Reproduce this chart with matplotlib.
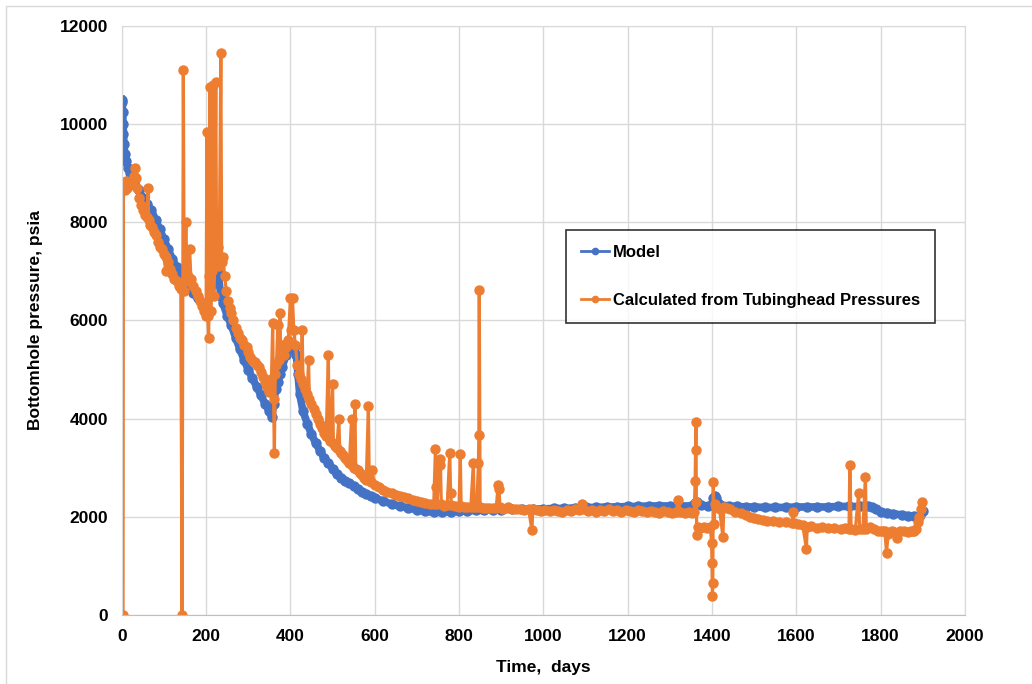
import matplotlib.pyplot as plt
from matplotlib.lines import Line2D
from matplotlib.patches import Rectangle

# Model (blue): (day, psia)
model_pts = [
    (0, 10500), (1, 10450), (2, 10250), (3, 10000), (4, 9800), (5, 9600),
    (7, 9400), (10, 9250), (15, 9100), (20, 9000), (25, 8900), (30, 8820),
    (40, 8650), (50, 8500), (60, 8380), (70, 8250), (80, 8050), (90, 7860),
    (100, 7650), (110, 7450), (120, 7250), (130, 7080), (140, 6950),
    (150, 6800), (160, 6680), (170, 6560), (180, 6450), (190, 6350),
    (200, 6280), (210, 6500), (220, 6900), (228, 7000), (235, 6500),
    (240, 6350), (250, 6100), (260, 5900), (270, 5650), (280, 5420),
    (290, 5200), (300, 5000), (310, 4820), (320, 4650), (330, 4480),
    (340, 4300), (350, 4150), (356, 4030), (360, 4300), (365, 4600),
    (370, 4750), (375, 4900), (380, 5050), (390, 5300), (400, 5420),
    (410, 5480), (414, 5300), (418, 4900), (422, 4500), (430, 4150),
    (440, 3900), (450, 3680), (460, 3500), (470, 3350), (480, 3200),
    (490, 3100), (500, 2980), (510, 2880), (520, 2800), (530, 2730),
    (540, 2680), (550, 2620), (560, 2560), (570, 2500), (580, 2460),
    (590, 2420), (600, 2380), (620, 2320), (640, 2260), (660, 2220),
    (680, 2180), (700, 2140), (720, 2110), (740, 2090), (760, 2090),
    (780, 2100), (800, 2110), (820, 2120), (840, 2130), (860, 2130),
    (880, 2140), (900, 2140), (925, 2150), (950, 2150), (975, 2160),
    (1000, 2160), (1025, 2170), (1050, 2170), (1075, 2180), (1100, 2190),
    (1125, 2190), (1150, 2200), (1175, 2200), (1200, 2210), (1225, 2210),
    (1250, 2220), (1275, 2220), (1300, 2220), (1325, 2220), (1350, 2220),
    (1360, 2280), (1365, 2300), (1375, 2230), (1390, 2220), (1400, 2230),
    (1403, 2380), (1406, 2420), (1410, 2380), (1415, 2280), (1420, 2240),
    (1440, 2220), (1460, 2210), (1480, 2200), (1500, 2200), (1525, 2190),
    (1550, 2190), (1575, 2190), (1600, 2200), (1625, 2200), (1650, 2200),
    (1675, 2200), (1700, 2210), (1725, 2210), (1750, 2210), (1770, 2210),
    (1780, 2200), (1790, 2150), (1800, 2100), (1815, 2080), (1830, 2060),
    (1850, 2040), (1865, 2020), (1880, 2010), (1888, 2000), (1894, 2040),
    (1900, 2120),
]

# Calculated from tubinghead pressures (orange): (day, psia)
calc_pts = [
    (1, 0), (3, 0), (4, 8700), (6, 8800), (8, 8650), (10, 8850), (13, 8700),
    (16, 8800), (20, 8750), (24, 8850), (28, 8950), (31, 9100), (33, 8900),
    (36, 8700), (40, 8500), (45, 8350), (50, 8250), (55, 8150), (60, 8100),
    (62, 8700), (64, 8050), (68, 7950), (72, 7900), (76, 7800), (80, 7750),
    (85, 7600), (90, 7500), (95, 7450), (100, 7350), (104, 7000),
    (106, 7300), (110, 7200), (115, 7050), (120, 6950), (125, 6850),
    (130, 6800), (135, 6700), (140, 6650), (143, 0), (146, 11100),
    (148, 6600), (152, 8000), (155, 6800), (158, 6900), (161, 7450),
    (164, 6850), (170, 6700), (175, 6600), (180, 6500), (185, 6400),
    (190, 6300), (195, 6200), (200, 6100), (202, 9850), (204, 6100),
    (206, 5650), (208, 6900), (209, 10750), (211, 6200), (214, 7000),
    (216, 10800), (218, 6500), (220, 7100), (223, 10850), (225, 7200),
    (228, 7500), (231, 7100), (235, 11450), (237, 7200), (240, 7300),
    (244, 6900), (248, 6600), (252, 6400), (256, 6250), (260, 6150),
    (265, 6000), (270, 5850), (275, 5750), (280, 5650), (285, 5600),
    (290, 5500), (296, 5450), (300, 5350), (305, 5250), (310, 5200),
    (315, 5150), (320, 5100), (325, 5050), (330, 4950), (335, 4850),
    (340, 4750), (345, 4650), (350, 4550), (355, 4800), (358, 5950),
    (360, 4400), (362, 3300), (364, 4900), (367, 5100), (370, 5900),
    (372, 5200), (375, 6150), (377, 5450), (380, 5500), (385, 5300),
    (390, 5450), (395, 5600), (400, 6450), (402, 5800), (405, 6450),
    (408, 5800), (412, 5500), (416, 5100), (420, 4900), (425, 4800),
    (428, 5800), (430, 4700), (435, 4600), (440, 4500), (443, 5200),
    (445, 4400), (450, 4300), (455, 4200), (460, 4100), (465, 4000),
    (470, 3900), (475, 3800), (480, 3700), (485, 3650), (490, 5300),
    (492, 3600), (495, 3550), (500, 4700), (502, 3500), (506, 3450),
    (510, 3400), (515, 4000), (517, 3350), (520, 3300), (525, 3250),
    (530, 3200), (535, 3150), (540, 3100), (545, 4000), (547, 3050),
    (550, 3000), (553, 4300), (555, 2980), (560, 2950), (565, 2900),
    (570, 2850), (575, 2800), (580, 2750), (585, 4250), (587, 2750),
    (590, 2700), (593, 2950), (600, 2650), (610, 2600), (620, 2550),
    (630, 2500), (640, 2480), (650, 2450), (660, 2420), (670, 2400),
    (680, 2380), (690, 2350), (700, 2320), (710, 2300), (720, 2280),
    (730, 2260), (740, 2250), (744, 3380), (746, 2600), (748, 2250),
    (754, 3180), (756, 3050), (758, 2250), (765, 2220), (772, 2230),
    (778, 3300), (780, 2480), (782, 2230), (790, 2220), (800, 2200),
    (803, 3270), (805, 2220), (812, 2200), (820, 2200), (828, 2200),
    (834, 3100), (836, 2200), (842, 2200), (846, 3100), (847, 3670),
    (848, 6620), (850, 2200), (856, 2180), (864, 2180), (872, 2170),
    (880, 2170), (888, 2170), (893, 2650), (895, 2560), (897, 2200),
    (905, 2160), (915, 2200), (925, 2160), (935, 2150), (945, 2150),
    (955, 2140), (965, 2150), (973, 1730), (975, 2150), (985, 2140),
    (995, 2120), (1005, 2130), (1015, 2110), (1025, 2140), (1035, 2120),
    (1045, 2100), (1055, 2130), (1065, 2120), (1075, 2160), (1085, 2140),
    (1091, 2270), (1095, 2150), (1105, 2120), (1115, 2140), (1125, 2100),
    (1135, 2130), (1145, 2120), (1155, 2150), (1165, 2110), (1175, 2130),
    (1185, 2100), (1195, 2140), (1205, 2120), (1215, 2100), (1225, 2130),
    (1235, 2110), (1245, 2090), (1255, 2120), (1265, 2100), (1275, 2080),
    (1285, 2110), (1295, 2090), (1305, 2080), (1315, 2100), (1320, 2350),
    (1325, 2100), (1335, 2070), (1345, 2090), (1352, 2080), (1358, 2100),
    (1360, 2720), (1361, 3370), (1362, 3940), (1363, 2300), (1364, 1630),
    (1366, 1800), (1372, 1780), (1380, 1790), (1388, 1780), (1396, 1800),
    (1399, 1470), (1400, 1060), (1401, 390), (1402, 650), (1403, 2700),
    (1405, 1860), (1407, 2250), (1409, 2200), (1411, 2200), (1418, 2150),
    (1426, 1590), (1428, 2200), (1435, 2180), (1443, 2150), (1455, 2100),
    (1470, 2080), (1480, 2040), (1490, 2000), (1500, 1980), (1510, 1960),
    (1520, 1940), (1530, 1920), (1545, 1920), (1560, 1900), (1575, 1900),
    (1590, 1880), (1592, 2100), (1594, 1880), (1605, 1860), (1615, 1840),
    (1624, 1350), (1626, 1800), (1635, 1820), (1648, 1780), (1660, 1800),
    (1675, 1770), (1690, 1780), (1705, 1760), (1715, 1770), (1725, 1750),
    (1727, 3060), (1730, 1760), (1740, 1740), (1748, 2490), (1750, 1750),
    (1758, 1760), (1764, 2820), (1766, 1760), (1775, 1800), (1785, 1750),
    (1795, 1720), (1800, 1720), (1806, 1700), (1810, 1720), (1814, 1270),
    (1818, 1650), (1826, 1700), (1832, 1680), (1838, 1570), (1845, 1700),
    (1855, 1720), (1865, 1690), (1872, 1700), (1876, 1700), (1880, 1710),
    (1884, 1750), (1888, 1900), (1892, 2000), (1896, 2150), (1898, 2310),
]

model_t = [t for t, p in model_pts]
model_p = [p for t, p in model_pts]
calc_t = [t for t, p in calc_pts]
calc_p = [p for t, p in calc_pts]

blue = '#4472c4'
orange = '#ed7d31'
font = ['Liberation Sans Narrow', 'Liberation Sans', 'DejaVu Sans']

fig = plt.figure(figsize=(10.32, 6.84), dpi=100)
ax = fig.add_axes([0.118, 0.101, 0.817, 0.861])

# model drawn as a thick band, like the dense daily markers in the original
ax.plot(model_t, model_p, '-o', color=blue, lw=5.5, ms=7.5, mew=0)
ax.plot(calc_t, calc_p, '-o', color=orange, lw=2.3, ms=7.5, mew=0)

ax.set_xlim(0, 2000)
ax.set_ylim(0, 12000)
ax.set_xticks(range(0, 2001, 200))
ax.set_yticks(range(0, 12001, 2000))
ax.grid(True, color='#d9d9d9', lw=1)
ax.set_axisbelow(True)
for s in ax.spines.values():
    s.set_color('#d9d9d9')
ax.spines['bottom'].set_color('#bfbfbf')
ax.tick_params(length=0, pad=10)
for lab in ax.get_xticklabels() + ax.get_yticklabels():
    lab.set_family(font)
    lab.set_fontweight('bold')
    lab.set_fontsize(12.5)

ax.set_xlabel('Time,  days', family=font, fontweight='bold', fontsize=12.5,
              labelpad=12)
ax.set_ylabel('Bottomhole pressure, psia', family=font, fontweight='bold',
              fontsize=12.5, labelpad=12)

handles = [
    Line2D([], [], color=blue, lw=2, marker='o', ms=5.5, mew=0),
    Line2D([], [], color=orange, lw=2, marker='o', ms=5.5, mew=0),
]
leg = ax.legend(handles, ['Model', 'Calculated from Tubinghead Pressures'],
                loc='upper left', bbox_to_anchor=(566 / 1032, 1 - 230 / 684),
                bbox_transform=fig.transFigure, borderaxespad=0,
                prop={'family': font, 'weight': 'bold', 'size': 12},
                frameon=True, fancybox=False, edgecolor='black',
                handlelength=1.7, handletextpad=0.2, labelspacing=1.95,
                borderpad=0.9)
leg.get_frame().set_linewidth(1.2)

# chart area border
fig.add_artist(Rectangle((6 / 1032, -0.1), 1.2, 1.1 - 6 / 684,
                         transform=fig.transFigure, fill=False,
                         edgecolor='#d9d9d9', lw=1))

fig.savefig('out.png', dpi=100)
